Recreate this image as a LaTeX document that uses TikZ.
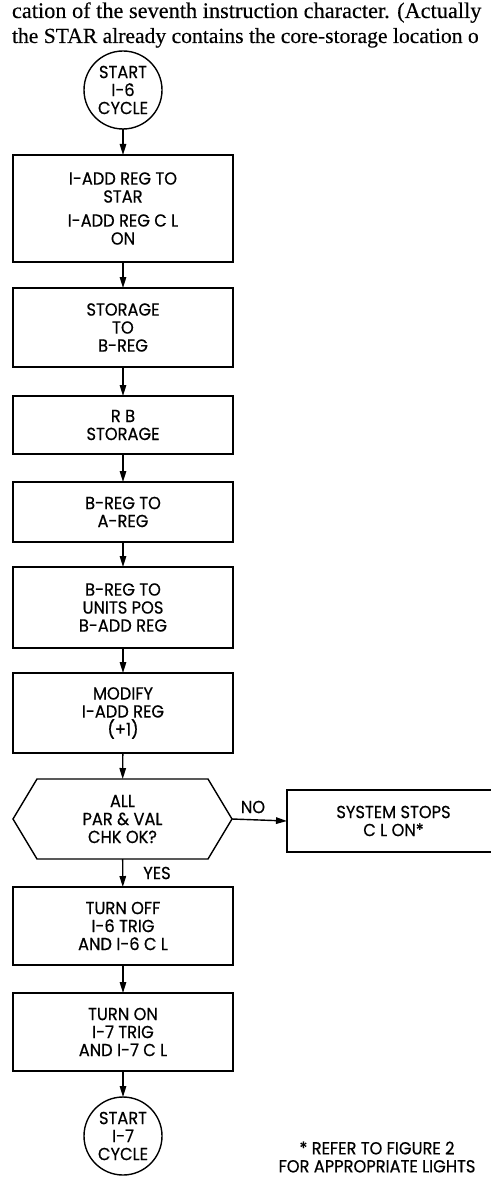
\documentclass[tikz,border=0pt]{standalone}
\usepackage{fontspec}
\setmainfont{Liberation Serif}[FakeBold=0.3]
\newfontfamily\chartfont{Poppins}[FakeStretch=0.93, FakeBold=0.5]
\usetikzlibrary{arrows.meta}
\begin{document}
\begin{tikzpicture}[x=1pt,y=-1pt,
  every node/.style={inner sep=0pt, outer sep=0pt},
  chart/.style={font=\chartfont\fontsize{17.5}{18}\selectfont, align=center},
  stepbox/.style={chart, draw, line width=1.4pt, minimum width=220pt},
  terminal/.style={chart, draw, circle, line width=1.4pt, minimum size=78pt},
  flow/.style={line width=1.4pt, -{Triangle[length=11pt,width=6.5pt]}},
  bodytext/.style={font=\fontsize{22.3}{25}\selectfont, anchor=base west},
  edgelabel/.style={chart}
]
\useasboundingbox (0,0) rectangle (490,1198);

% running text above the chart
\node[bodytext] (line1) at (12,18) {cation of the seventh instruction character. (Actually};
\node[bodytext, font=\fontsize{21.6}{25}\selectfont] (line2) at (12,43)
  {the STAR already contains the core-storage location o};

% main column
\node[terminal] (start) at (123,90) {START\\I-6\\CYCLE};
\node[stepbox, minimum height=107pt] (b1) at (123,208.5)
  {I-ADD REG TO\\STAR\\[6pt]I-ADD REG C L\\ON};
\node[stepbox, minimum height=79pt] (b2) at (123,327.5) {STORAGE\\TO\\B-REG};
\node[stepbox, minimum height=58pt] (b3) at (123,425) {R B\\STORAGE};
\node[stepbox, minimum height=60pt] (b4) at (123,512) {B-REG TO\\A-REG};
\node[stepbox, minimum height=81pt] (b5) at (123,607.5) {B-REG TO\\UNITS POS\\B-ADD REG};
\node[stepbox, minimum height=80pt] (b6) at (123,713) {MODIFY\\I-ADD REG\\(+1)};
\node[chart, minimum width=219pt, minimum height=80pt] (chk) at (122.5,819)
  {ALL\\PAR \& VAL\\CHK OK?};
\draw[line width=1.4pt] (chk.west) -- ([xshift=24pt]chk.north west)
  -- ([xshift=-24pt]chk.north east) -- (chk.east)
  -- ([xshift=-24pt]chk.south east) -- ([xshift=24pt]chk.south west) -- cycle;
\node[stepbox, minimum height=78pt] (b7) at (123,926) {TURN OFF\\I-6 TRIG\\AND I-6 C L};
\node[stepbox, minimum height=78pt] (b8) at (123,1032) {TURN ON\\I-7 TRIG\\AND I-7 C L};
\node[terminal] (stop7) at (123,1136) {START\\I-7\\CYCLE};

% error branch
\node[stepbox, minimum width=213pt, minimum height=62pt, anchor=west] (halt) at (287,821)
  {SYSTEM STOPS\\C L ON*};

% connectors
\draw[flow] (start) -- (b1);
\draw[flow] (b1) -- (b2);
\draw[flow] (b2) -- (b3);
\draw[flow] (b3) -- (b4);
\draw[flow] (b4) -- (b5);
\draw[flow] (b5) -- (b6);
\draw[flow] (b6) -- (chk);
\draw[flow] (chk) -- (b7);
\draw[flow] (b7) -- (b8);
\draw[flow] (b8) -- (stop7);
\draw[flow] (chk.east) -- (halt.west);

\node[edgelabel] (no) at (253,807) {NO};
\node[edgelabel] (yes) at (157,873) {YES};

% footnote
\node[chart] (note) at (377,1157) {* REFER TO FIGURE 2\\FOR APPROPRIATE LIGHTS};
\end{tikzpicture}
\end{document}
